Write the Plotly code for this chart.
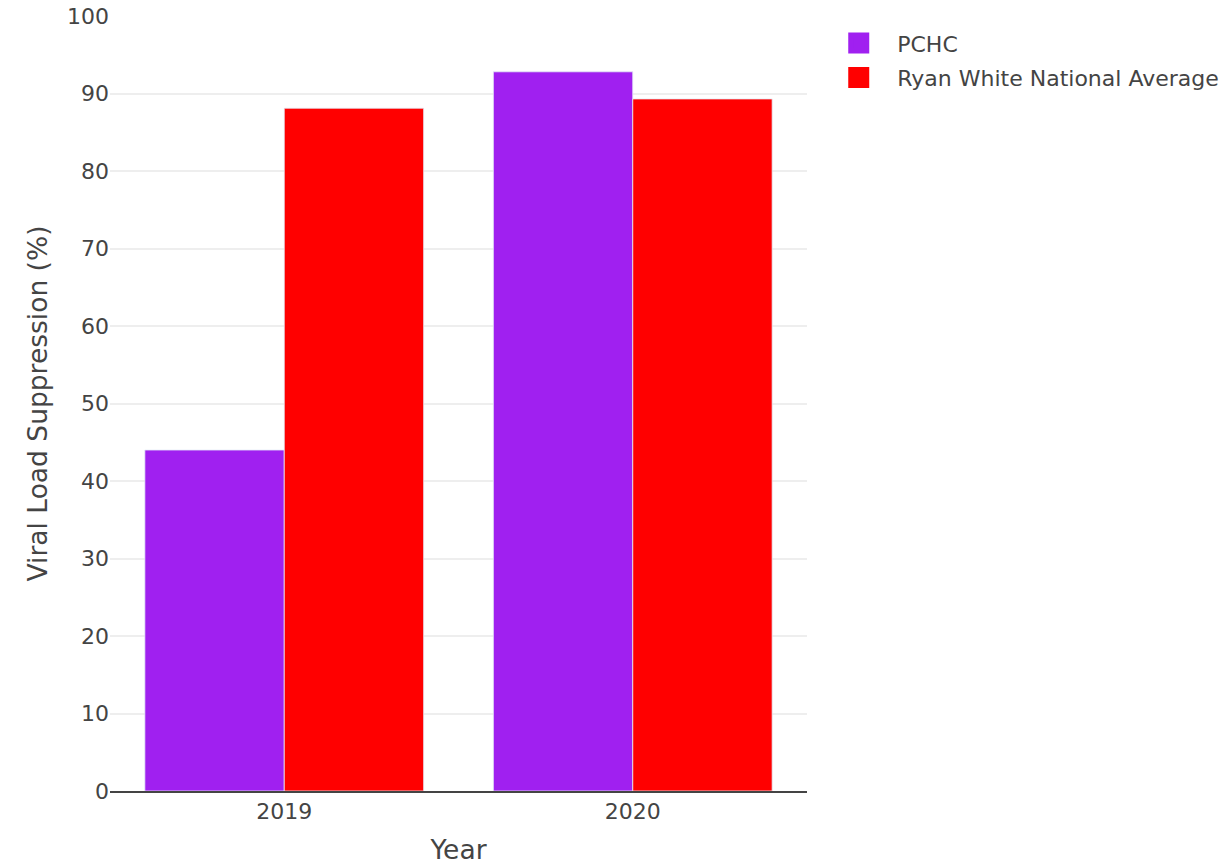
import plotly.graph_objects as go

years = ["2019", "2020"]
pchc = [44, 92.8]
ryan_white = [88.1, 89.3]

series = [
    ("PCHC", pchc, "#A020F0"),
    ("Ryan White National Average", ryan_white, "#FF0000"),
]

fig = go.Figure()
for name, vals, col in series:
    fig.add_trace(go.Bar(x=years, y=vals, name=name, showlegend=False, legendgroup=name,
                         marker=dict(color=col, line=dict(color="#E5ECF6", width=0.8))))
# legend-only entries (larger square swatches)
for name, vals, col in series:
    fig.add_trace(go.Scatter(x=[None], y=[None], mode="markers", name=name, legendgroup=name,
                             marker=dict(symbol="square", size=16, color=col,
                                         line=dict(color=col, width=5))))

fig.update_layout(
    template="none",
    width=1216, height=857,
    margin=dict(l=102, r=417, t=8, b=74, pad=0, autoexpand=False),
    barmode="group",
    bargap=0.2,
    paper_bgcolor="white",
    plot_bgcolor="white",
    font=dict(family="DejaVu Sans, Verdana, sans-serif", size=22, color="#444"),
    legend=dict(x=1.019, y=0.992, xanchor="left", yanchor="top", font=dict(size=22),
                itemwidth=67, tracegroupgap=3),
    xaxis=dict(
        type="category",
        categoryorder="array", categoryarray=years,
        title=dict(text="Year", font=dict(size=26.5)),
        showline=True, linecolor="#444", linewidth=1.8,
        showgrid=False, ticks="",
    ),
    yaxis=dict(
        title=dict(text="Viral Load Suppression (%)", font=dict(size=26.5)),
        range=[0, 100], dtick=10,
        tickvals=[0, 10, 20, 30, 40, 50, 60, 70, 80, 90, 100],
        ticklabeloverflow="allow",
        showgrid=True, gridcolor="#eeeeee", gridwidth=1.5,
        zeroline=False, showline=False, ticks="",
    ),
)

fig.write_html("out.html")
